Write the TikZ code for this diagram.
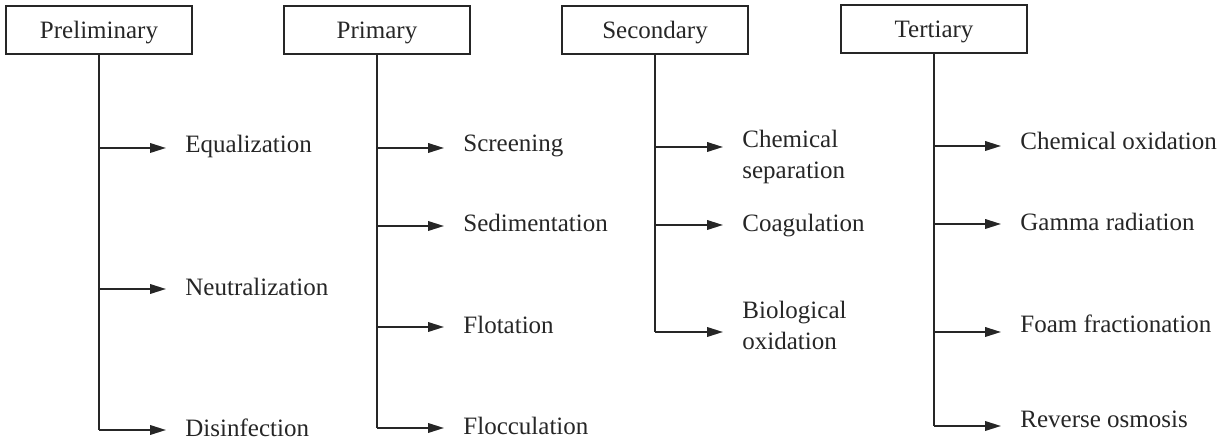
\documentclass[tikz,border=0pt]{standalone}
\usepackage{fontspec}
\setmainfont{Liberation Serif}
\usetikzlibrary{arrows.meta}

\begin{document}
\begin{tikzpicture}[x=0.5pt, y=-0.5pt,
    font=\fontsize{12.5}{15.5}\selectfont,
    box/.style={draw=black!85, line width=1pt, minimum width=93pt, minimum height=24pt, inner sep=0pt, text height=8.3pt, text depth=0pt, text=black!85},
    item/.style={anchor=base west, inner xsep=9.5pt, inner ysep=0pt, text=black!85},
    twoline/.style={anchor=west, align=left, inner xsep=9.5pt, inner ysep=0pt, text=black!85},
    trunk/.style={draw=black!85, line width=0.75pt},
    arrow/.style={-{Triangle[length=8pt, width=4.8pt]}, draw=black!85, fill=black!85, line width=0.9pt}
  ]
    \useasboundingbox (0,0) rectangle (1229,442);

    % Stage boxes
    \node[box] (pre) at (99,30) {Preliminary};
    \node[box] (pri) at (377,30) {Primary};
    \node[box] (sec) at (655,30) {Secondary};
    \node[box] (ter) at (934,29) {Tertiary};

    % Branch points
    \coordinate (pre1) at (99,148);
    \coordinate (pre2) at (99,289);
    \coordinate (pre3) at (99,430);
    \coordinate (pri1) at (377,148);
    \coordinate (pri2) at (377,226);
    \coordinate (pri3) at (377,327);
    \coordinate (pri4) at (377,428);
    \coordinate (sec1) at (655,147);
    \coordinate (sec2) at (655,225);
    \coordinate (sec3) at (655,332);
    \coordinate (ter1) at (934,146);
    \coordinate (ter2) at (934,224);
    \coordinate (ter3) at (934,332);
    \coordinate (ter4) at (934,426);

    % Preliminary treatments
    \node[item] (equal) at (166,153) {Equalization};
    \node[item] (neutral) at (166,296) {Neutralization};
    \node[item] (disinf) at (166,437) {Disinfection};

    % Primary treatments
    \node[item] (screen) at (444,152) {Screening};
    \node[item] (sedim) at (444,232) {Sedimentation};
    \node[item] (flot) at (444,334) {Flotation};
    \node[item] (flocc) at (444,434) {Flocculation};

    % Secondary treatments
    \node[twoline] (chemsep) at (723,157) {Chemical\\separation};
    \node[item] (coag) at (723,232) {Coagulation};
    \node[twoline] (bioox) at (723,325) {Biological\\oxidation};

    % Tertiary treatments
    \node[item] (chemox) at (1001,150) {Chemical oxidation};
    \node[item] (gamma) at (1001,231) {Gamma radiation};
    \node[item] (foam) at (1001,333) {Foam fractionation};
    \node[item] (revos) at (1001,427) {Reverse osmosis};

    % Trunks
    \draw[trunk] (pre) -- (pre3);
    \draw[trunk] (pri) -- (pri4);
    \draw[trunk] (sec) -- (sec3);
    \draw[trunk] (ter) -- (ter4);

    % Arrows
    \draw[arrow] (pre1) -- (pre1 -| equal.west);
    \draw[arrow] (pre2) -- (pre2 -| neutral.west);
    \draw[arrow] (pre3) -- (pre3 -| disinf.west);
    \draw[arrow] (pri1) -- (pri1 -| screen.west);
    \draw[arrow] (pri2) -- (pri2 -| sedim.west);
    \draw[arrow] (pri3) -- (pri3 -| flot.west);
    \draw[arrow] (pri4) -- (pri4 -| flocc.west);
    \draw[arrow] (sec1) -- (sec1 -| chemsep.west);
    \draw[arrow] (sec2) -- (sec2 -| coag.west);
    \draw[arrow] (sec3) -- (sec3 -| bioox.west);
    \draw[arrow] (ter1) -- (ter1 -| chemox.west);
    \draw[arrow] (ter2) -- (ter2 -| gamma.west);
    \draw[arrow] (ter3) -- (ter3 -| foam.west);
    \draw[arrow] (ter4) -- (ter4 -| revos.west);

\end{tikzpicture}
\end{document}
